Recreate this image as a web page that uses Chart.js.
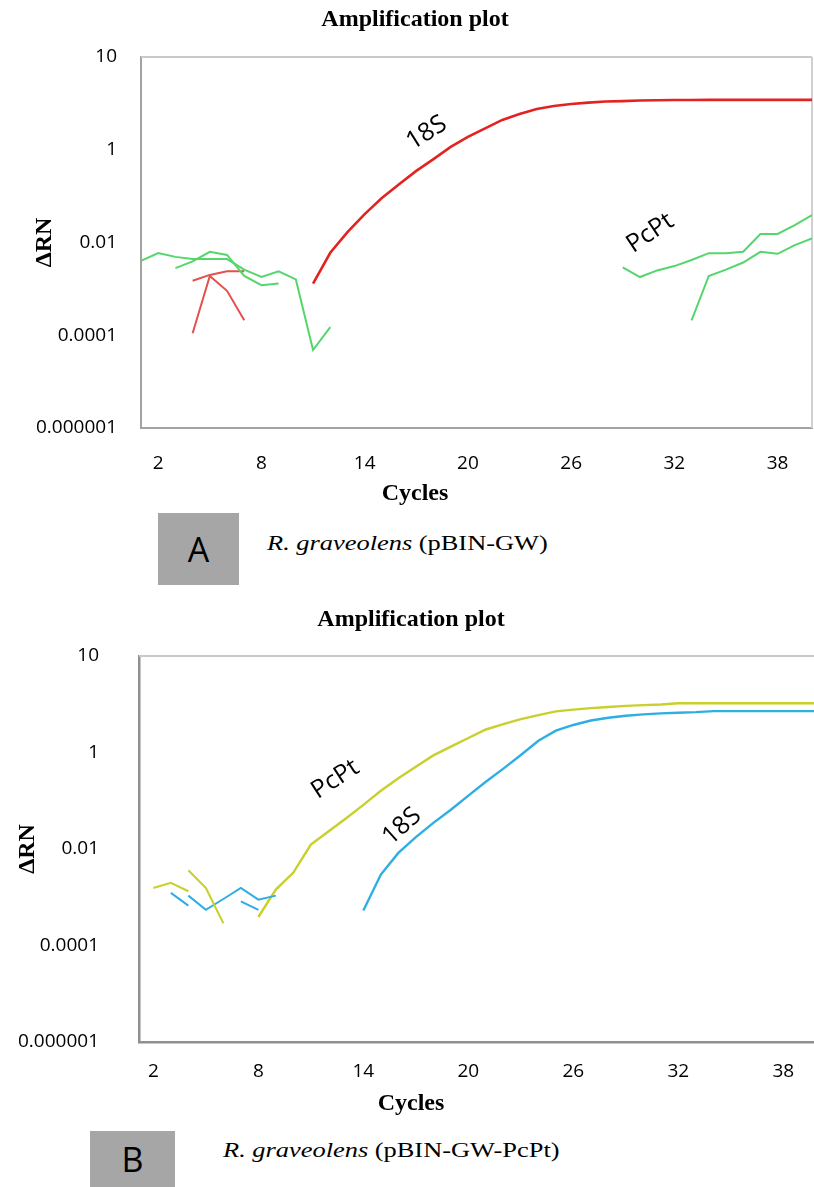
<!DOCTYPE html>
<html>
<head>
<meta charset="utf-8">
<script src="https://cdn.jsdelivr.net/npm/chart.js@4.4.1/dist/chart.umd.min.js"></script>
<style>
  html, body { margin: 0; padding: 0; background: #ffffff; }
  body { width: 814px; height: 1187px; position: relative; overflow: hidden; }
  canvas { position: absolute; left: 0; }
  #chartA { top: 0; width: 814px; height: 508px; }
  #chartB { top: 595px; width: 814px; height: 524px; }
  .tag { position: absolute; background: #a6a6a6; color: #000; font-family: "Open Sans", sans-serif;
         font-size: 34px; display: flex; align-items: center; justify-content: center; }
  .cap { position: absolute; font-family: "Liberation Serif", serif; font-size: 22px; color: #000;
         white-space: nowrap; transform: scaleX(1.2); transform-origin: left center; line-height: 1; }
</style>
</head>
<body>
<canvas id="chartA" width="814" height="508"></canvas>
<canvas id="chartB" width="814" height="524"></canvas>
<div class="tag" style="left:158px;top:513px;width:81px;height:72px;">A</div>
<div class="cap" style="left:267px;top:532px;"><i>R. graveolens</i> (pBIN-GW)</div>
<div class="tag" style="left:90px;top:1131px;width:85px;height:56px;">B</div>
<div class="cap" style="left:223px;top:1139px;"><i>R. graveolens</i> (pBIN-GW-PcPt)</div>
<script>
// ---------------- data ----------------
const xTickValues = [2, 8, 14, 20, 26, 32, 38];
const xTickLabels = ['2', '8', '14', '20', '26', '32', '38'];
const yTickValues = [0.000001, 0.0001, 0.01, 1, 100];
const yTickLabels = ['0.000001', '0.0001', '0.01', '1', '10'];

// Panel A : R. graveolens (pBIN-GW)
const aGreenNoise1Cycles = [1, 2, 3, 4, 5, 6, 7, 8, 9, 10, 11, 12];
const aGreenNoise1 = [0.0040, 0.0059, 0.0049, 0.0044, 0.0044, 0.0044, 0.0026, 0.0018, 0.0024, 0.0016, 0.000048, 0.00015];
const aGreenNoise2Cycles = [3, 4, 5, 6, 7, 8, 9];
const aGreenNoise2 = [0.0028, 0.0039, 0.0063, 0.0054, 0.0019, 0.0012, 0.0013];
const aRedNoise1Cycles = [4, 5, 6, 7];
const aRedNoise1 = [0.0015, 0.0020, 0.0024, 0.0024];
const aRedNoise2Cycles = [4, 5, 6, 7];
const aRedNoise2 = [0.00011, 0.0019, 0.00091, 0.00021];
const a18SCycles = [11, 12, 13, 14, 15, 16, 17, 18, 19, 20, 21, 22, 23, 24, 25, 26, 27, 28, 29, 30, 31, 32, 33, 34, 35, 36, 37, 38, 39, 40];
const a18S = [0.0013, 0.0060, 0.0168, 0.041, 0.091, 0.18, 0.35, 0.63, 1.15, 1.9, 2.9, 4.4, 5.9, 7.6, 8.8, 9.7, 10.4, 11.0, 11.2, 11.5, 11.7, 11.8, 11.8, 11.9, 11.9, 11.9, 11.9, 11.9, 11.9, 11.9];
const aPcPt1Cycles = [29, 30, 31, 32, 33, 34, 35, 36, 37, 38, 39, 40];
const aPcPt1 = [0.0029, 0.0018, 0.0025, 0.0031, 0.0042, 0.0059, 0.0059, 0.0063, 0.0153, 0.0153, 0.0238, 0.039];
const aPcPt2Cycles = [33, 34, 35, 36, 37, 38, 39, 40];
const aPcPt2 = [0.00021, 0.0019, 0.0026, 0.0037, 0.0063, 0.0057, 0.0088, 0.0123];

// Panel B : R. graveolens (pBIN-GW-PcPt)
const bYellowNoise1Cycles = [2, 3, 4];
const bYellowNoise1 = [0.00156, 0.00199, 0.00133];
const bYellowNoise2Cycles = [4, 5, 6];
const bYellowNoise2 = [0.00363, 0.00156, 0.00029];
const bPcPtCycles = [8, 9, 10, 11, 12, 13, 14, 15, 16, 17, 18, 19, 20, 21, 22, 23, 24, 25, 26, 27, 28, 29, 30, 31, 32, 33, 34, 35, 36, 37, 38, 39, 40];
const bPcPt = [0.00039, 0.00144, 0.00325, 0.0124, 0.0231, 0.043, 0.082, 0.161, 0.292, 0.506, 0.87, 1.32, 2.0, 3.0, 3.86, 4.91, 5.95, 7.1, 7.73, 8.3, 8.8, 9.27, 9.6, 9.9, 10.5, 10.5, 10.5, 10.5, 10.5, 10.5, 10.5, 10.5, 10.5];
const bBlueNoise1Cycles = [3, 4];
const bBlueNoise1 = [0.00123, 0.00067];
const bBlueNoise2Cycles = [4, 5, 6, 7, 8, 9];
const bBlueNoise2 = [0.00108, 0.00055, 0.00092, 0.00156, 0.00089, 0.00108];
const bBlueNoise3Cycles = [7, 8];
const bBlueNoise3 = [0.00082, 0.00055];
const b18SCycles = [14, 15, 16, 17, 18, 19, 20, 21, 22, 23, 24, 25, 26, 27, 28, 29, 30, 31, 32, 33, 34, 35, 36, 37, 38, 39, 40];
const b18S = [0.00053, 0.00295, 0.0083, 0.0176, 0.0348, 0.065, 0.128, 0.248, 0.464, 0.89, 1.75, 2.83, 3.72, 4.61, 5.25, 5.78, 6.18, 6.48, 6.67, 6.86, 7.2, 7.2, 7.2, 7.2, 7.2, 7.2, 7.2];

// ---------------- styling ----------------
const GREEN = '#55d66c', RED = '#e2231f', RED_LIGHT = '#e4504c', YELLOW = '#c8d02c', BLUE = '#2eaee2';
const TITLE_FONT = { family: '"Liberation Serif", serif', weight: 'bold', size: 24 };
const TICK_FONT = { family: '"Open Sans", sans-serif', size: 19 };

function pts(cycles, values) { return cycles.map((c, i) => ({ x: c, y: values[i] })); }
function line(cycles, values, color, width) {
  return { data: pts(cycles, values), borderColor: color, backgroundColor: color, borderWidth: width || 2,
           pointRadius: 0, fill: false, tension: 0 };
}

const plotFrame = {
  id: 'plotFrame',
  beforeDatasetsDraw(chart, args, opts) {
    const { ctx, chartArea: a } = chart;
    ctx.save();
    ctx.lineWidth = 2;
    if (opts.top) { ctx.strokeStyle = opts.top; ctx.beginPath(); ctx.moveTo(a.left, a.top); ctx.lineTo(a.right, a.top); ctx.stroke(); }
    if (opts.right) { ctx.strokeStyle = opts.right; ctx.beginPath(); ctx.moveTo(a.right, a.top); ctx.lineTo(a.right, a.bottom); ctx.stroke(); }
    ctx.restore();
  }
};

const curveLabels = {
  id: 'curveLabels',
  afterDatasetsDraw(chart, args, opts) {
    const { ctx, scales: { x, y } } = chart;
    (opts.items || []).forEach(it => {
      ctx.save();
      ctx.translate(x.getPixelForValue(it.cycle), y.getPixelForValue(it.value));
      ctx.rotate(it.angle * Math.PI / 180);
      ctx.font = '25px "Open Sans", sans-serif';
      ctx.fillStyle = '#000';
      ctx.textAlign = 'center';
      ctx.textBaseline = 'middle';
      ctx.fillText(it.text, 0, 0);
      ctx.restore();
    });
  }
};

function buildChart(id, L, datasets, labels) {
  return new Chart(document.getElementById(id), {
    type: 'line',
    data: { datasets },
    options: {
      responsive: false, animation: false, devicePixelRatio: 1,
      layout: { padding: { left: L.padLeft, right: L.padRight, top: 0, bottom: 0 } },
      plugins: {
        legend: { display: false }, tooltip: { enabled: false },
        title: { display: true, text: 'Amplification plot', color: '#000', font: TITLE_FONT,
                 padding: { top: L.titleTop, bottom: L.titleBottom } },
        subtitle: { display: true, position: 'bottom', text: 'Cycles', color: '#000', font: TITLE_FONT,
                    padding: { top: 0, bottom: L.xTitleBottom } },
        plotFrame: { top: '#c9c9c9', right: L.rightFrame },
        curveLabels: { items: labels }
      },
      scales: {
        x: {
          type: 'linear', min: L.xMin, max: L.xMax,
          afterBuildTicks: s => { s.ticks = xTickValues.map(v => ({ value: v })); },
          afterFit: s => { s.height = L.xHeight; },
          grid: { display: false, drawTicks: false },
          border: { display: true, color: L.axisColor, width: L.axisWidth },
          ticks: { padding: L.xTickPad, color: '#000', font: TICK_FONT, maxRotation: 0, autoSkip: false,
                   callback: (v, i) => xTickLabels[i] }
        },
        y: {
          type: 'logarithmic', min: 0.000001, max: 100,
          afterBuildTicks: s => { s.ticks = yTickValues.map(v => ({ value: v })); },
          afterFit: s => { s.width = L.yWidth; },
          grid: { display: false, drawTicks: false },
          border: { display: true, color: L.axisColor, width: L.axisWidth },
          ticks: { padding: L.yTickPad, color: '#000', font: TICK_FONT, autoSkip: false,
                   callback: (v, i) => yTickLabels[i] },
          title: { display: true, text: 'ΔRN', color: '#000', font: TITLE_FONT, padding: { top: L.yTitlePad, bottom: 0 } }
        }
      }
    },
    plugins: [plotFrame, curveLabels]
  });
}

buildChart('chartA', {
  padLeft: 18, padRight: 2, titleTop: 5.6, titleBottom: 22.6, xTitleBottom: 0,
  xHeight: 51.2, xTickPad: 24.6, yWidth: 123, yTickPad: 24, yTitlePad: 12.6,
  xMin: 1, xMax: 40, axisColor: '#a3a3a3', axisWidth: 2, rightFrame: '#d0d0d0'
}, [
  line(aGreenNoise1Cycles, aGreenNoise1, GREEN),
  line(aGreenNoise2Cycles, aGreenNoise2, GREEN),
  line(aRedNoise1Cycles, aRedNoise1, RED_LIGHT),
  line(aRedNoise2Cycles, aRedNoise2, RED_LIGHT),
  line(a18SCycles, a18S, RED, 2.6),
  line(aPcPt1Cycles, aPcPt1, GREEN),
  line(aPcPt2Cycles, aPcPt2, GREEN)
], [
  { text: '18S', cycle: 17.6, value: 2.3, angle: -32 },
  { text: 'PcPt', cycle: 30.6, value: 0.016, angle: -34 }
]);

buildChart('chartB', {
  padLeft: 8, padRight: 0, titleTop: 10.6, titleBottom: 21.6, xTitleBottom: 0.6,
  xHeight: 47.6, xTickPad: 18.6, yWidth: 131, yTickPad: 40, yTitlePad: 5.6,
  xMin: 1.18, xMax: 39.75, axisColor: '#8f8f8f', axisWidth: 2.5, rightFrame: null
}, [
  line(bYellowNoise1Cycles, bYellowNoise1, YELLOW),
  line(bYellowNoise2Cycles, bYellowNoise2, YELLOW),
  line(bBlueNoise1Cycles, bBlueNoise1, BLUE),
  line(bBlueNoise2Cycles, bBlueNoise2, BLUE),
  line(bBlueNoise3Cycles, bBlueNoise3, BLUE),
  line(bPcPtCycles, bPcPt, YELLOW, 2.4),
  line(b18SCycles, b18S, BLUE, 2.4)
], [
  { text: 'PcPt', cycle: 12.4, value: 0.278, angle: -33 },
  { text: '18S', cycle: 16.2, value: 0.0294, angle: -42 }
]);
</script>
</body>
</html>
